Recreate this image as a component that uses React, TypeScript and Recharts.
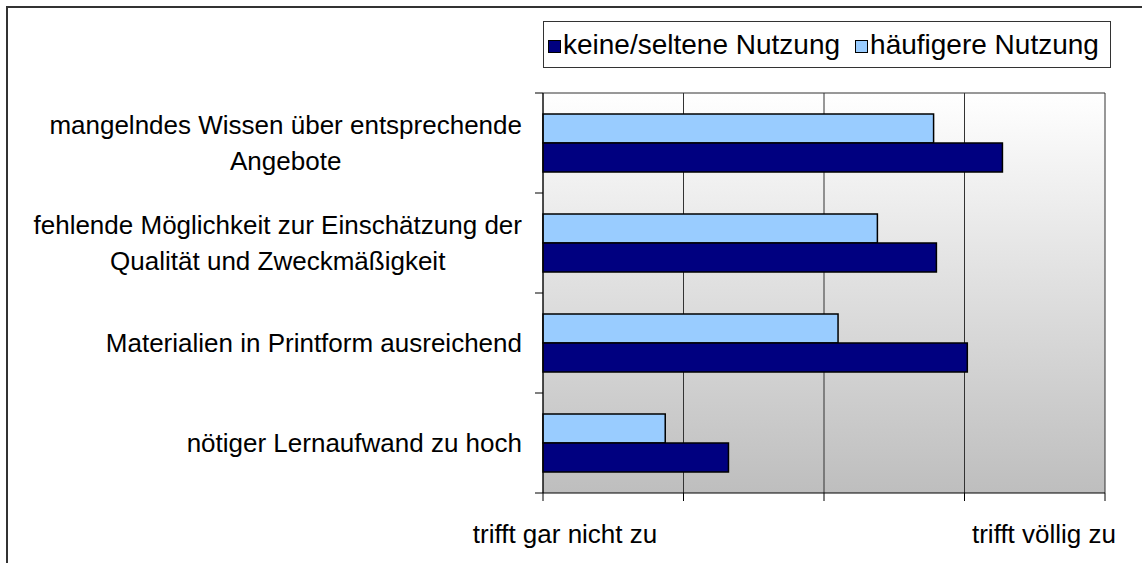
import { Bar, BarChart, CartesianGrid, XAxis, YAxis } from "recharts";

const categories = [
  "mangelndes Wissen über entsprechende\nAngebote",
  "fehlende Möglichkeit zur Einschätzung der\nQualität und Zweckmäßigkeit",
  "Materialien in Printform ausreichend",
  "nötiger Lernaufwand zu hoch",
];
const seltenValues = [4.27, 3.8, 4.02, 2.32];
const haeufigValues = [3.78, 3.38, 3.1, 1.87];
const scaleTicks = [1, 2, 3, 4, 5];
const scaleLabels: Record<number, string> = {
  1: "trifft gar nicht zu",
  5: "trifft völlig zu",
};

// first series is drawn on top inside each band
const series = [
  { key: "haeufig", name: "häufigere Nutzung", color: "#99ccff" },
  { key: "selten", name: "keine/seltene Nutzung", color: "#000080" },
];
const legendOrder = ["selten", "haeufig"];

const data = categories.map((name, i) => ({
  name,
  selten: seltenValues[i],
  haeufig: haeufigValues[i],
}));

const W = 1142;
const H = 563;
const MARGIN = { top: 93, right: 37, bottom: 0, left: 0 };
const X_AXIS_H = 70;
const Y_AXIS_W = 543;
const TICK_SIZE = 8;
const TICK_MARGIN = 13;
const PLOT_H = H - MARGIN.top - MARGIN.bottom - X_AXIS_H;
const BAND = PLOT_H / categories.length;

const FONT = '"Liberation Sans", Arial, sans-serif';
const FONT_SIZE = 26;
const LEGEND_FONT_SIZE = 28;
const LINE_H = 36;

const ctx =
  typeof document !== "undefined"
    ? document.createElement("canvas").getContext("2d")
    : null;

function textWidth(s: string) {
  if (!ctx) return s.length * FONT_SIZE * 0.5;
  ctx.font = `${FONT_SIZE}px ${FONT}`;
  return ctx.measureText(s).width;
}

function CategoryTick(props: any) {
  const { x, y, payload, index } = props;
  const lines = String(payload.value).split("\n");
  const widest = Math.max(...lines.map(textWidth));
  const cx = x - widest / 2;
  const axisX = x + TICK_MARGIN + TICK_SIZE;
  const first = y - ((lines.length - 1) * LINE_H) / 2;
  return (
    <g>
      <line x1={axisX - TICK_SIZE} x2={axisX} y1={y - BAND / 2} y2={y - BAND / 2} stroke="#000" />
      {index === categories.length - 1 && (
        <line x1={axisX - TICK_SIZE} x2={axisX} y1={y + BAND / 2} y2={y + BAND / 2} stroke="#000" />
      )}
      {lines.map((line, i) => (
        <text
          key={i}
          x={cx}
          y={first + i * LINE_H}
          dy="0.35em"
          textAnchor="middle"
          fontFamily={FONT}
          fontSize={FONT_SIZE}
          fill="#000"
        >
          {line}
        </text>
      ))}
    </g>
  );
}

function ScaleTick(props: any) {
  const { x, y, payload } = props;
  const label = scaleLabels[payload.value];
  if (!label) return <g />;
  const shift = payload.value === scaleTicks[0] ? 22 : -61;
  return (
    <text
      x={x + shift}
      y={y}
      dy={40}
      textAnchor="middle"
      fontFamily={FONT}
      fontSize={FONT_SIZE}
      fill="#000"
    >
      {label}
    </text>
  );
}

function LegendBox() {
  return (
    <div
      style={{
        position: "absolute",
        left: 543,
        top: 21,
        width: 562,
        height: 45,
        border: "1px solid #333",
        background: "#fff",
        display: "flex",
        alignItems: "center",
        paddingLeft: 4,
        boxSizing: "content-box",
        fontFamily: FONT,
        fontSize: LEGEND_FONT_SIZE,
        color: "#000",
        whiteSpace: "nowrap",
      }}
    >
      {legendOrder.map((k, i) => {
        const s = series.find((d) => d.key === k)!;
        return (
          <div
            key={k}
            style={{ display: "flex", alignItems: "center", marginLeft: i ? 15 : 0 }}
          >
            <span
              style={{
                display: "inline-block",
                width: 11,
                height: 11,
                border: "1px solid #000",
                background: s.color,
                marginRight: 2,
                marginTop: 4,
              }}
            />
            <span>{s.name}</span>
          </div>
        );
      })}
    </div>
  );
}

export default function App() {
  return (
    <div style={{ position: "absolute", left: 0, top: 0, width: W, height: H, background: "#fff", overflow: "hidden" }}>
      <div
        style={{
          position: "absolute",
          left: 6,
          top: 6,
          width: W,
          height: H,
          borderLeft: "2px solid #333",
          borderTop: "2px solid #333",
        }}
      />
      <div style={{ position: "absolute", left: 0, top: 0 }}>
        <BarChart
          width={W}
          height={H}
          data={data}
          layout="vertical"
          margin={MARGIN}
          barCategoryGap="21%"
          barGap={0}
        >
          <defs>
            <linearGradient id="plotBg" x1="0" y1="0" x2="0" y2="1">
              <stop offset="0%" stopColor="#ffffff" />
              <stop offset="100%" stopColor="#bebebe" />
            </linearGradient>
          </defs>
          <CartesianGrid
            fill="url(#plotBg)"
            fillOpacity={1}
            stroke="#333"
            vertical
            horizontal
            horizontalCoordinatesGenerator={({ offset }: any) => [offset.top]}
          />
          <XAxis
            type="number"
            domain={[1, 5]}
            ticks={scaleTicks}
            height={X_AXIS_H}
            tickSize={TICK_SIZE}
            tickLine={{ stroke: "#000" }}
            axisLine={{ stroke: "#000" }}
            tick={<ScaleTick />}
            interval={0}
          />
          <YAxis
            type="category"
            dataKey="name"
            width={Y_AXIS_W}
            tickSize={TICK_SIZE}
            tickMargin={TICK_MARGIN}
            tickLine={false}
            axisLine={{ stroke: "#000" }}
            tick={<CategoryTick />}
            interval={0}
          />
          {series.map((s) => (
            <Bar
              key={s.key}
              dataKey={s.key}
              name={s.name}
              fill={s.color}
              stroke="#000"
              strokeWidth={1.5}
              isAnimationActive={false}
            />
          ))}
        </BarChart>
      </div>
      <LegendBox />
    </div>
  );
}
